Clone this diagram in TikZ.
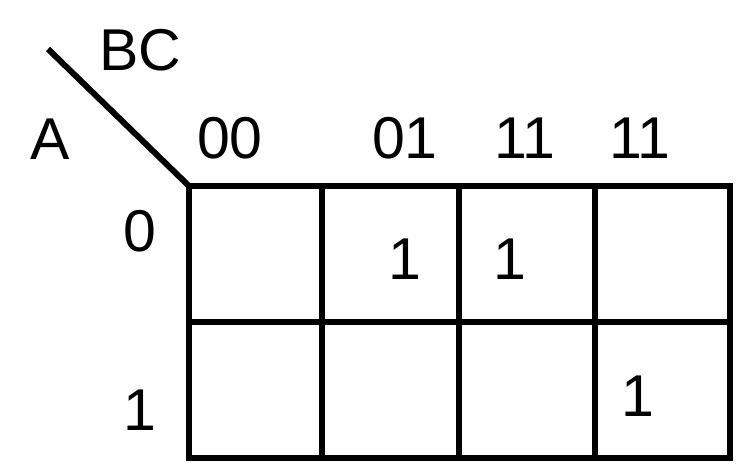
\documentclass[tikz,border=0pt]{standalone}
\usepackage{fontspec}
\setmainfont{Liberation Sans}
\begin{document}
\begin{tikzpicture}[x=1pt, y=-1pt, line width=6pt,
    lbl/.style={inner sep=0pt, font=\fontsize{59}{63}\selectfont}]
    \useasboundingbox (0,0) rectangle (742,470);
    % corners of the map
    \coordinate (nw) at (189,186);
    \coordinate (se) at (730,458);
    \coordinate (tip) at (48,49);
    \draw (tip) -- (nw);
    \draw (nw) rectangle (se);
    \foreach \x in {322,459,595}
        \draw (\x,186) -- (\x,458);
    \draw (189,322) -- (730,322);
    % variable names
    \node[lbl] (bc) at (140,50) {BC};
    \node[lbl] (a) at (50,139) {A};
    % column heads
    \node[lbl] (c00) at (230,138) {00};
    \node[lbl] (c01) at (405,138) {01};
    \node[lbl] (c11) at (525,138) {11};
    \node[lbl] (c10) at (640,138) {11};
    % row heads
    \node[lbl] (r0) at (140,231) {0};
    \node[lbl] (r1) at (140,410) {1};
    % cells
    \node[lbl] (m01) at (405,259) {1};
    \node[lbl] (m03) at (510,259) {1};
    \node[lbl] (m12) at (638,396) {1};
\end{tikzpicture}
\end{document}
